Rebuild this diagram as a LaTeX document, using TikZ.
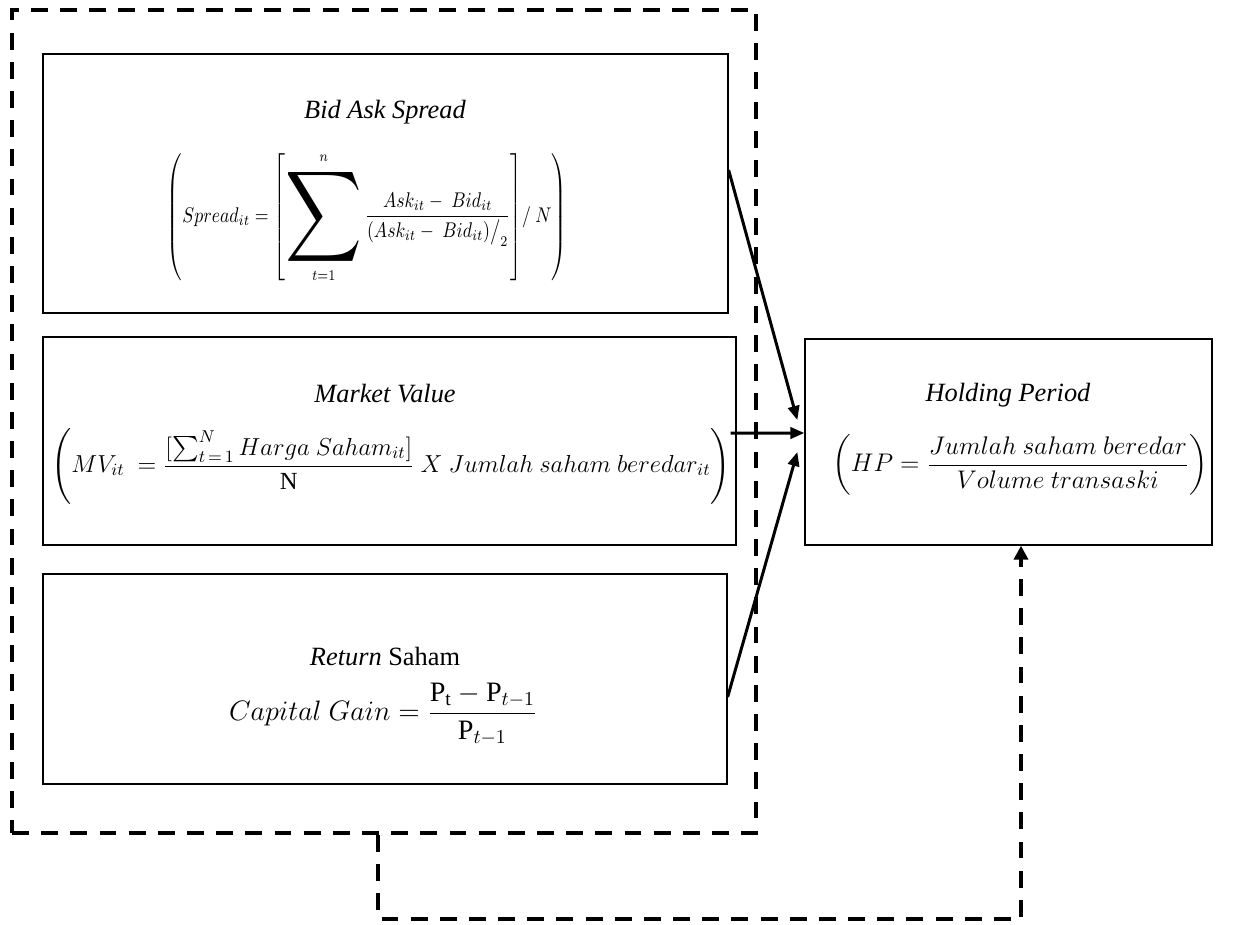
\RequirePackage{fix-cm}
\documentclass[tikz,border=0pt]{standalone}
\usepackage{amsmath}
\usepackage{fontspec}
\setmainfont{Liberation Serif}
\usetikzlibrary{arrows.meta,positioning}

% stretched summation sign
\newcommand{\bigsigma}{\mathop{\vcenter{\hbox{\scalebox{3.0}{$\displaystyle\sum$}}}}\limits}

\begin{document}
\begin{tikzpicture}[x=0.02cm, y=-0.02cm,
  varbox/.style={draw, line width=0.8pt, inner sep=0pt},
  group/.style={draw, line width=2.3pt, dash pattern=on 9.6pt off 7pt, inner sep=0pt},
  arrow/.style={-{Triangle[length=8pt, width=6.5pt]}, line width=1.7pt},
  feedback/.style={line width=2.3pt, dash pattern=on 9.6pt off 7pt, -{Triangle[length=8pt, width=8pt]}},
  title/.style={font=\fontsize{15}{18}\selectfont\itshape},
  formula/.style={inner sep=0pt}
]
\useasboundingbox (0,0) rectangle (1245,924);

% dashed group frame round the three variables
\node[group, minimum width=14.88cm, minimum height=16.46cm] (grp) at (384,421.5) {};

% independent variables
\node[varbox, minimum width=13.7cm, minimum height=5.18cm] (bas) at (385.5,183.5) {};
\node[varbox, minimum width=13.86cm, minimum height=4.16cm] (mv) at (389.5,441) {};
\node[varbox, minimum width=13.68cm, minimum height=4.2cm] (ret) at (385,679) {};
% dependent variable
\node[varbox, minimum width=8.14cm, minimum height=4.12cm] (hp) at (1008.5,442) {};

\node[title] (bas-t) at (385,112) {Bid Ask Spread};
\node[formula, font=\fontsize{11}{13}\selectfont] (bas-f) at (367,218)
  {\scalebox{0.92}[1.1]{$\left(Spread_{it} = \left[\bigsigma_{t=1}^{n}\dfrac{Ask_{it}-\ Bid_{it}}{(Ask_{it}-\ Bid_{it})\big/_{2}}\right]\!/\ N\right)$}};

\node[title] (mv-t) at (385,394) {Market Value};
\node[formula, font=\fontsize{14}{16}\selectfont] (mv-f) at (391,466)
  {$\left(MV_{it}\ = \dfrac{[\sum_{t\,=\,1}^{N} Harga\ Saham_{it}]}{\mathrm{N}}\ X\ Jumlah\ saham\ beredar_{it}\right)$};

\node[title] (ret-t) at (385,657) {Return \upshape Saham};
\node[formula, font=\fontsize{16}{18}\selectfont] (ret-f) at (383,714)
  {$Capital\ Gain = \dfrac{\mathrm{P_t}-\mathrm{P}_{t-1}}{\mathrm{P}_{t-1}}$};

\node[title] (hp-t) at (1008,395) {Holding Period};
\node[formula, font=\fontsize{14.5}{17}\selectfont] (hp-f) at (1020,465)
  {$\left(HP = \dfrac{Jumlah\ saham\ beredar}{Volume\ transaski}\right)$};

% effects on holding period
\draw[arrow] ([yshift=0.27cm]bas.east) -- ([xshift=-0.14cm, yshift=0.44cm]hp.west);
\draw[arrow] ([xshift=-0.12cm, yshift=0.16cm]mv.east) -- ([yshift=0.18cm]hp.west);
\draw[arrow] ([yshift=-0.36cm]ret.east) -- ([xshift=-0.14cm, yshift=-0.2cm]hp.west);

% simultaneous effect
\draw[feedback] ([xshift=-0.12cm]grp.south) -- ++(0,84) -| ([xshift=0.25cm]hp.south);
\end{tikzpicture}
\end{document}
